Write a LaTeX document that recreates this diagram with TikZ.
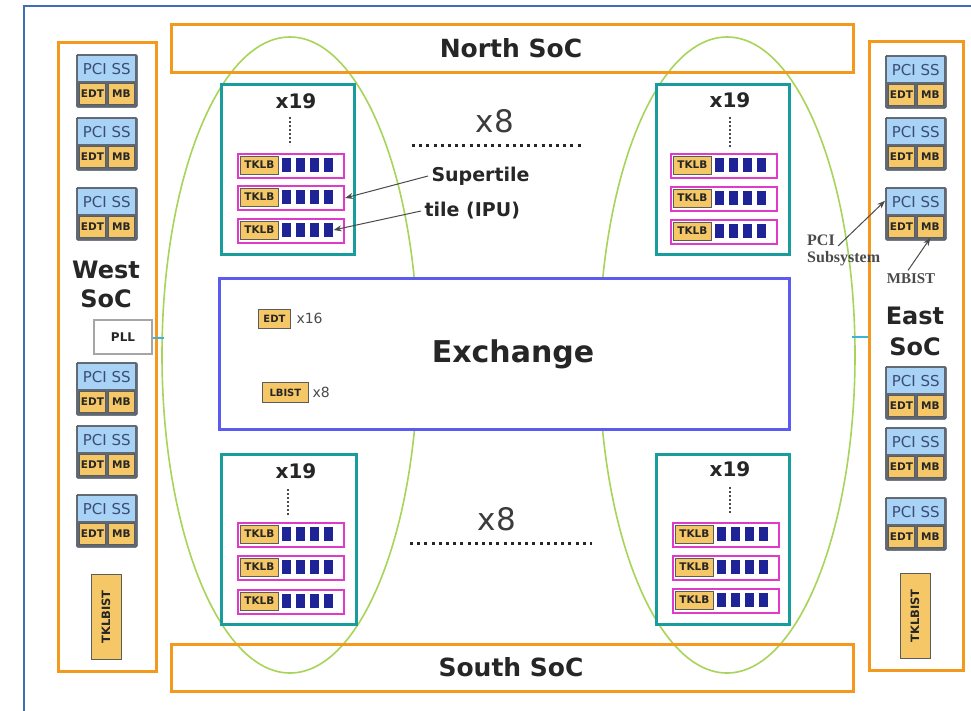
\documentclass[tikz,border=0pt]{standalone}
\usepackage{fontspec}
\setmainfont{DejaVu Sans}
\newfontfamily\annot{Liberation Serif}
\usetikzlibrary{arrows.meta}
\definecolor{socorange}{HTML}{F39A1E}
\definecolor{outerblue}{HTML}{3E6FB6}
\definecolor{tealc}{HTML}{189C9C}
\definecolor{magc}{HTML}{E03BC8}
\definecolor{navyc}{HTML}{1E2396}
\definecolor{yellowc}{HTML}{F6C766}
\definecolor{ybord}{HTML}{5C5C5C}
\definecolor{pciblue}{HTML}{A8D2F6}
\definecolor{pcigray}{HTML}{5F6873}
\definecolor{pcitext}{HTML}{3A4D74}
\definecolor{ellgreen}{HTML}{A8D45A}
\definecolor{exchblue}{HTML}{5B5BF2}
\definecolor{cyanl}{HTML}{3AB5D6}
\definecolor{txt}{HTML}{262626}
\definecolor{soft}{HTML}{4A4A4A}

\newcommand\pciss[3]{%
  \node[pciout, anchor=north west] (#1) at (#2,#3) {};
  \node[pcib, anchor=north west] (#1b) at ({#2+2},{#3+2}) {PCI SS};
  \node[ybx, anchor=north west] (#1e) at ({#2+3},{#3+29}) {EDT};
  \node[ybx, anchor=north west] (#1m) at ({#2+32},{#3+29}) {MB};
}
\newcommand\strow[3]{%
  \node[strowbox, anchor=north west] (#1) at (#2,#3) {};
  \node[tklb, anchor=west] (#1t) at ({#2+3},{#3+12}) {TKLB};
  \foreach \i in {0,1,2,3}{\node[sq] (#1s\i) at ({#2+49+\i*14.3},{#3+12}) {};}
}

\begin{document}
\begin{tikzpicture}[x=1pt,y=-1pt,
  soc/.style={draw=socorange, line width=3pt, inner sep=0},
  soctext/.style={font=\bfseries\fontsize{25}{29}\selectfont, text=txt, align=center},
  pciout/.style={fill=pcigray, draw=pcigray!80!black, line width=0.6pt, rounded corners=1.5pt, minimum width=61, minimum height=53, inner sep=0},
  pcib/.style={fill=pciblue, minimum width=57, minimum height=25, inner sep=0, text=pcitext, font=\fontsize{15}{15}\selectfont},
  ybx/.style={fill=yellowc, draw=ybord, line width=0.8pt, minimum width=26, minimum height=21, inner sep=0, text=txt, font=\bfseries\fontsize{10.5}{11}\selectfont},
  tealbox/.style={draw=tealc, line width=3pt, fill=white, minimum width=133, minimum height=170, inner sep=0},
  strowbox/.style={draw=magc, line width=2pt, fill=white, minimum width=106, minimum height=24, inner sep=0},
  tklb/.style={fill=yellowc, draw=ybord, line width=0.8pt, minimum width=38, minimum height=18, inner sep=0, text=txt, font=\bfseries\fontsize{10.5}{11}\selectfont},
  sq/.style={fill=navyc, minimum width=9, minimum height=14, inner sep=0},
  xnineteen/.style={font=\bfseries\fontsize{20}{20}\selectfont, text=txt},
  veedots/.style={draw=soft, line width=1.8pt, dash pattern=on 1.8pt off 2.2pt},
  hdots/.style={draw=txt, line width=3pt, dash pattern=on 3pt off 4.2pt},
  xeight/.style={font=\fontsize{31}{31}\selectfont, text=txt!90},
  ell/.style={draw=ellgreen, line width=1.6pt},
  arr/.style={draw=soft, line width=1pt, -{Stealth[length=8pt,width=6pt]}},
  lab/.style={font=\bfseries\fontsize{19}{19}\selectfont, text=txt},
  annotlab/.style={font=\annot\bfseries\fontsize{16}{18}\selectfont, text=soft, align=left},
  cyanline/.style={draw=cyanl, line width=2pt},
  vbist/.style={fill=yellowc, draw=ybord, line width=0.8pt, minimum width=85, minimum height=30, inner sep=0, rotate=90, text=txt, font=\bfseries\fontsize{11.5}{12}\selectfont}
]
\useasboundingbox (0,0) rectangle (971,710);
\fill[white] (0,0) rectangle (971,710);
% outer frame
\draw[outerblue, line width=2pt] (24,715) -- (24,6) -- (975,6);

% ellipses
\draw[ell] (290,355) ellipse [x radius=128pt, y radius=318pt];
\draw[ell] (727,355) ellipse [x radius=128pt, y radius=318pt];

% SoC boxes
\node[soc, minimum width=682, minimum height=48, anchor=north west] (north) at (170,23) {};
\node[soctext] (northt) at (511,48) {North SoC};
\node[soc, minimum width=682, minimum height=47, anchor=north west] (south) at (170,643) {};
\node[soctext] (southt) at (511,667) {South SoC};
\node[soc, minimum width=98, minimum height=629, anchor=north west] (west) at (57,41) {};
\node[soctext, font=\bfseries\fontsize{24}{29}\selectfont] (westt) at (106,284) {West\\SoC};
\node[soc, minimum width=94, minimum height=629, anchor=north west] (east) at (868,40) {};
\node[soctext, font=\bfseries\fontsize{24}{31}\selectfont] (eastt) at (915,331) {East\\SoC};

% West PCI blocks
\pciss{w1}{76}{54}
\pciss{w2}{76}{117}
\pciss{w3}{76}{187}
\pciss{w4}{76}{362}
\pciss{w5}{76}{425}
\pciss{w6}{76}{494}
% East PCI blocks
\pciss{e1}{885}{55}
\pciss{e2}{885}{117}
\pciss{e3}{885}{187}
\pciss{e4}{885}{366}
\pciss{e5}{885}{427}
\pciss{e6}{885}{497}

% TKLBIST
\node[vbist] (wtk) at (106,617) {TKLBIST};
\node[vbist] (etk) at (915,616) {TKLBIST};

% PLL and connectors
\node[draw=gray!70, fill=white, line width=1.2pt, minimum width=58, minimum height=34, inner sep=0, font=\bfseries\fontsize{12}{12}\selectfont, text=txt] (pll) at (123,337) {PLL};
\coordinate (wl) at (164,338);
\draw[cyanline] (pll.east |- wl) -- (wl);
\coordinate (el) at (852,337);
\draw[cyanline] (el) -- (el -| east.west);

% supertile groups
\node[tealbox, anchor=north west] (tlg) at (220,83) {};
\node[tealbox, anchor=north west] (trg) at (655,83) {};
\node[tealbox, anchor=north west, minimum width=135] (blg) at (220,453) {};
\node[tealbox, anchor=north west] (brg) at (655,453) {};

\node[xnineteen] (tlx) at (296,101) {x19};
\node[xnineteen] (trx) at (730,100) {x19};
\node[xnineteen] (blx) at (296,471) {x19};
\node[xnineteen] (brx) at (730,469) {x19};
\draw[veedots] (290,117) -- (290,145);
\draw[veedots] (730,117) -- (730,147);
\draw[veedots] (288,489) -- (288,515);
\draw[veedots] (730,487) -- (730,513);

\strow{tl1}{237}{153}
\strow{tl2}{237}{185}
\strow{tl3}{237}{218}
\strow{tr1}{670}{153}
\strow{tr2}{670}{186}
\strow{tr3}{670}{219}
\strow{bl1}{237}{522}
\strow{bl2}{237}{555}
\strow{bl3}{237}{589}
\strow{br1}{672}{522}
\strow{br2}{672}{555}
\strow{br3}{672}{588}

% x8 labels
\node[xeight] (x8t) at (495,121) {x8};
\draw[hdots] (412,145) -- (582,145);
\node[xeight] (x8b) at (497,519) {x8};
\draw[hdots] (410,543) -- (592,543);

% Exchange
\node[draw=exchblue, line width=3pt, fill=white, minimum width=570, minimum height=151, inner sep=0, anchor=north west] (exch) at (218,277) {};
\node[font=\bfseries\fontsize{30}{30}\selectfont, text=txt] (exchl) at (513,354) {Exchange};
\node[ybx, minimum width=32, minimum height=19, font=\bfseries\fontsize{10}{10}\selectfont, anchor=north west] (edt) at (258,309) {EDT};
\node[font=\fontsize{14}{14}\selectfont, text=soft, anchor=west] (edtx) at (293,318) {x16};
\node[ybx, minimum width=46, minimum height=20, font=\bfseries\fontsize{10}{10}\selectfont, anchor=north west] (lbist) at (262,382) {LBIST};
\node[font=\fontsize{14}{14}\selectfont, text=soft, anchor=west] (lbx) at (309,392) {x8};

% annotations
\node[lab, anchor=west] (sup) at (428,176) {Supertile};
\node[lab, anchor=west] (ipu) at (421,211) {tile (IPU)};
\draw[arr] (sup.west) -- (tl2.east);
\draw[arr] (ipu.west) -- (tl3s3.east);

\node[annotlab, anchor=north west, inner sep=0] (pcisub) at (807,235) {PCI\\[-1pt]Subsystem};
\coordinate (psa) at (838,246);
\draw[arr] (psa) -- ([yshift=13pt]e3.west);
\node[annotlab, font=\annot\bfseries\fontsize{15}{15}\selectfont] (mbist) at (911,279) {MBIST};
\draw[arr] ([xshift=-3pt]mbist.north) -- (e3m.south);
\end{tikzpicture}
\end{document}
